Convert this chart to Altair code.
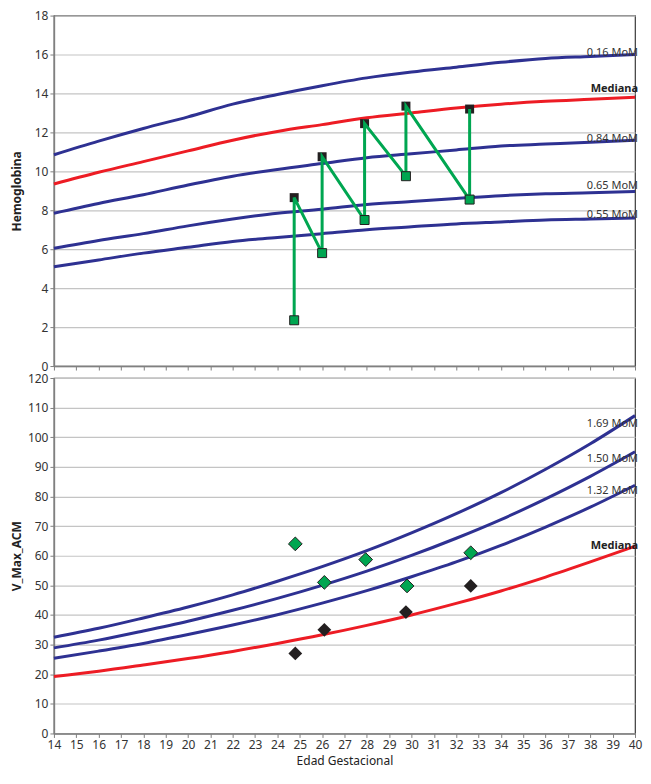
import altair as alt
import pandas as pd

# ---------------- data ----------------
weeks = [14, 16, 18, 20, 22, 24, 26, 28, 30, 32, 34, 36, 38, 40]

hb_116 = [10.85, 11.55, 12.2, 12.8, 13.45, 13.95, 14.4, 14.8, 15.1, 15.35, 15.6, 15.8, 15.9, 16.0]
hb_med = [9.35, 9.95, 10.5, 11.05, 11.6, 12.05, 12.4, 12.75, 13.0, 13.25, 13.45, 13.6, 13.7, 13.8]
hb_084 = [7.85, 8.35, 8.8, 9.3, 9.75, 10.1, 10.4, 10.7, 10.9, 11.1, 11.3, 11.4, 11.5, 11.6]
hb_065 = [6.05, 6.45, 6.8, 7.2, 7.55, 7.85, 8.05, 8.3, 8.45, 8.6, 8.75, 8.85, 8.9, 8.97]
hb_055 = [5.1, 5.45, 5.8, 6.1, 6.4, 6.6, 6.8, 7.0, 7.15, 7.3, 7.4, 7.5, 7.55, 7.6]

vm_med = [19.2, 21.0, 23.1, 25.3, 27.7, 30.4, 33.3, 36.5, 40.0, 43.9, 48.1, 52.8, 57.9, 63.2]
vm_132 = [25.4, 27.8, 30.4, 33.4, 36.6, 40.1, 44.0, 48.2, 52.9, 57.9, 63.5, 69.7, 76.4, 83.8]
vm_150 = [28.9, 31.5, 34.6, 37.9, 41.6, 45.6, 50.0, 54.8, 60.1, 65.9, 72.2, 79.2, 86.8, 95.1]
vm_169 = [32.5, 35.5, 39.0, 42.7, 46.8, 51.4, 56.3, 61.7, 67.7, 74.2, 81.3, 89.2, 97.8, 107.3]

hb_weeks = [24.75, 26.0, 27.9, 29.75, 32.6]
hb_green = [2.35, 5.8, 7.5, 9.75, 8.55]
hb_black = [8.65, 10.75, 12.45, 13.35, 13.2]

vm_green_weeks = [24.8, 26.1, 27.95, 29.8, 32.65]
vm_green = [64.0, 51.0, 58.7, 49.8, 61.0]
vm_black_weeks = [24.8, 26.1, 29.75, 32.65]
vm_black = [27.0, 35.0, 41.0, 49.8]

hb_labels = ["0.16 MoM", "0.84 MoM", "0.65 MoM", "0.55 MoM"]
hb_label_y = [16.0, 11.55, 9.12, 7.68]
hb_med_label_y = 14.06
vm_labels = ["1.69 MoM", "1.50 MoM", "1.32 MoM"]
vm_label_y = [103.4, 91.7, 80.8]
vm_med_label_y = 62.3

# ---------------- styling ----------------
BLUE = "#2e3192"
RED = "#ed1c24"
GREEN = "#00a651"
BLACK = "#231f20"
FONT = "Noto Sans"

hb_series = ["h116", "hmed", "h084", "h065", "h055"]
vm_series = ["v169", "v150", "v132", "vmed"]

hb_df = pd.concat([
    pd.DataFrame({"week": weeks, "value": v, "hbs": s})
    for s, v in zip(hb_series, [hb_116, hb_med, hb_084, hb_065, hb_055])
])
vm_df = pd.concat([
    pd.DataFrame({"week": weeks, "value": v, "vms": s})
    for s, v in zip(vm_series, [vm_169, vm_150, vm_132, vm_med])
])

zig = []
for i, w in enumerate(hb_weeks):
    zig.append({"week": w, "value": hb_green[i], "ord": 2 * i})
    zig.append({"week": w, "value": hb_black[i], "ord": 2 * i + 1})
zig_df = pd.DataFrame(zig)

hb_pts_g = pd.DataFrame({"week": hb_weeks, "value": hb_green})
hb_pts_b = pd.DataFrame({"week": hb_weeks, "value": hb_black})
vm_pts_g = pd.DataFrame({"week": vm_green_weeks, "value": vm_green})
vm_pts_b = pd.DataFrame({"week": vm_black_weeks, "value": vm_black})

hb_lab_df = pd.DataFrame({"week": [40] * len(hb_labels), "value": hb_label_y, "label": hb_labels})
hb_med_df = pd.DataFrame({"week": [40], "value": [hb_med_label_y], "label": ["Mediana"]})
vm_lab_df = pd.DataFrame({"week": [40] * len(vm_labels), "value": vm_label_y, "label": vm_labels})
vm_med_df = pd.DataFrame({"week": [40], "value": [vm_med_label_y], "label": ["Mediana"]})

x_scale = alt.Scale(domain=[14, 40], nice=False, zero=False)
tick_vals = list(range(14, 41))

x_top = alt.X("week:Q", scale=x_scale,
              axis=alt.Axis(values=tick_vals, labels=False, title=None, grid=False))
x_bot = alt.X("week:Q", scale=x_scale,
              axis=alt.Axis(values=tick_vals, title="Edad Gestacional", grid=False,
                            titleFontWeight="normal", titlePadding=5, labelFlush=False))

y_top = alt.Y("value:Q", scale=alt.Scale(domain=[0, 18], nice=False),
              axis=alt.Axis(values=list(range(0, 19, 2)), title="Hemoglobina",
                            titleFontWeight="bold", titleX=-37, titleBaseline="middle"))
y_bot = alt.Y("value:Q", scale=alt.Scale(domain=[0, 120], nice=False),
              axis=alt.Axis(values=list(range(0, 121, 10)), title="V_Max_ACM",
                            titleFontWeight="bold", titleX=-37, titleBaseline="middle"))

W = 582

# ---------------- top panel ----------------
hb_color = alt.Color("hbs:N", legend=None,
                     scale=alt.Scale(domain=hb_series, range=[BLUE, RED, BLUE, BLUE, BLUE]))
top_curves = alt.Chart(hb_df).mark_line(strokeWidth=3, interpolate="monotone").encode(
    x=x_top, y=y_top, color=hb_color, detail="hbs:N")
top_black = alt.Chart(hb_pts_b).mark_point(shape="square", filled=True, size=81, color=BLACK,
                                            opacity=1).encode(x=x_top, y=y_top)
top_zig = alt.Chart(zig_df).mark_line(color=GREEN, strokeWidth=3).encode(
    x=x_top, y=y_top, order="ord:Q")
top_green = alt.Chart(hb_pts_g).mark_point(shape="square", filled=True, size=81, fill=GREEN,
                                            stroke=BLACK, strokeWidth=1, opacity=1).encode(x=x_top, y=y_top)
top_lab = alt.Chart(hb_lab_df).mark_text(align="right", baseline="alphabetic", dx=3, dy=1,
                                         font=FONT, fontSize=11, color="#333").encode(
    x=x_top, y=y_top, text="label:N")
top_med = alt.Chart(hb_med_df).mark_text(align="right", baseline="alphabetic", dx=3,
                                         font=FONT, fontSize=11, fontWeight="bold", color="#222").encode(
    x=x_top, y=y_top, text="label:N")

top = alt.layer(top_curves, top_black, top_zig, top_green, top_lab, top_med).properties(
    width=W, height=351)

# ---------------- bottom panel ----------------
vm_color = alt.Color("vms:N", legend=None,
                     scale=alt.Scale(domain=vm_series, range=[BLUE, BLUE, BLUE, RED]))
bot_curves = alt.Chart(vm_df).mark_line(strokeWidth=3, interpolate="monotone").encode(
    x=x_bot, y=y_bot, color=vm_color, detail="vms:N")
bot_green = alt.Chart(vm_pts_g).mark_point(shape="diamond", filled=True, size=190, fill=GREEN,
                                            stroke=BLACK, strokeWidth=1, opacity=1).encode(x=x_bot, y=y_bot)
bot_black = alt.Chart(vm_pts_b).mark_point(shape="diamond", filled=True, size=190, color=BLACK,
                                            opacity=1).encode(x=x_bot, y=y_bot)
bot_lab = alt.Chart(vm_lab_df).mark_text(align="right", baseline="alphabetic", dx=3,
                                         font=FONT, fontSize=11, color="#333").encode(
    x=x_bot, y=y_bot, text="label:N")
bot_med = alt.Chart(vm_med_df).mark_text(align="right", baseline="alphabetic", dx=3,
                                         font=FONT, fontSize=11, fontWeight="bold", color="#222").encode(
    x=x_bot, y=y_bot, text="label:N")

bottom = alt.layer(bot_curves, bot_green, bot_black, bot_lab, bot_med).properties(
    width=W, height=356)

chart = alt.vconcat(top, bottom, spacing=12, bounds="flush").resolve_scale(
    color="independent"
).properties(
    padding={"left": 2, "top": 0, "right": 0, "bottom": 0}
).configure_axis(
    labelFont=FONT, labelFontSize=12, labelColor="#333",
    titleFont=FONT, titleFontSize=12, titleColor="#222",
    domainColor="#808080", domainWidth=1.5,
    tickColor="#808080", tickSize=4, tickWidth=1,
    gridColor="#c4c4c4", gridWidth=1.2, labelPadding=2,
).configure_view(stroke="#3a3a3a", strokeWidth=1.2)

chart.save("out.html", embed_options={"renderer": "svg", "actions": False})
